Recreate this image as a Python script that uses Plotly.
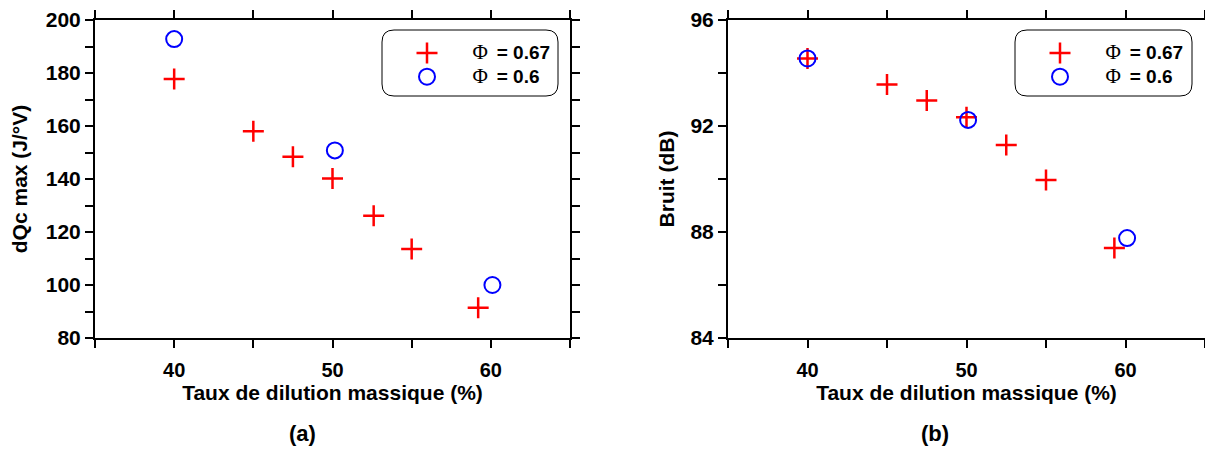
import plotly.graph_objects as go

# ---- data ----
xa_phi067 = [40, 45, 47.5, 50, 52.6, 55, 59.2]
ya_phi067 = [177.7, 158.0, 148.4, 140.2, 126.1, 113.6, 91.4]
xa_phi06 = [40, 50.15, 60.1]
ya_phi06 = [192.8, 150.8, 100.0]

xb_phi067 = [40, 45, 47.5, 50, 52.5, 55, 59.3]
yb_phi067 = [94.55, 93.57, 92.96, 92.33, 91.28, 89.96, 87.4]
xb_phi06 = [40, 50.1, 60.1]
yb_phi06 = [94.55, 92.23, 87.77]

PHI = "<span style='font-family:Liberation Serif; font-weight:normal; font-size:21px'>Φ</span>"
name067 = "\u00a0" + PHI + "\u00a0 <span style='font-size:19px'>= 0.67</span>"
name06 = "\u00a0" + PHI + "\u00a0 <span style='font-size:19px'>= 0.6</span>"
x_title = "Taux de dilution massique (%)"

# page has an 8px body margin; figure fills the rest of the 1213x455 window
OFF = 8
W, H = 1213 - 2 * OFF, 455 - 2 * OFF
def px(x):
    return (x - OFF) / W
def py(y):
    return 1 - (y - OFF) / H

FONT = "Liberation Sans, Arial, sans-serif"
RED = "#ff0000"
BLUE = "#0000ff"

fig = go.Figure()

def add_pair(xr, yr, xb, yb, xaxis, yaxis, legend):
    fig.add_trace(go.Scatter(
        x=xr, y=yr, mode="markers", name=name067, xaxis=xaxis, yaxis=yaxis, legend=legend,
        marker=dict(symbol="cross-thin", size=15, color=RED, line=dict(color=RED, width=2.5))))
    fig.add_trace(go.Scatter(
        x=xb, y=yb, mode="markers", name=name06, xaxis=xaxis, yaxis=yaxis, legend=legend,
        marker=dict(symbol="circle-open", size=16, color=BLUE, line=dict(color=BLUE, width=2))))

add_pair(xa_phi067, ya_phi067, xa_phi06, ya_phi06, "x", "y", "legend")
add_pair(xb_phi067, yb_phi067, xb_phi06, yb_phi06, "x2", "y2", "legend2")

axis_common = dict(
    showline=True, linecolor="black", linewidth=2, mirror="allticks",
    ticks="outside", ticklen=8, tickwidth=1.5, tickcolor="black",
    showgrid=False, zeroline=False, automargin=False,
)
xfont = dict(family=FONT, size=20, color="black", weight="bold")
yfont = dict(family=FONT, size=21, color="black", weight="bold")
tfont = dict(family=FONT, size=21, color="black", weight="bold")

ydom = [py(338), py(20)]
xt = [35, 40, 45, 50, 55, 60, 65]
xtt = ["", "40", "", "50", "", "60", ""]

legend_common = dict(xanchor="left", yanchor="top", bgcolor="rgba(0,0,0,0)",
                     borderwidth=0, itemwidth=72, tracegroupgap=0,
                     font=dict(family=FONT, size=16, color="black", weight="bold"))

fig.update_layout(
    width=W, height=H,
    margin=dict(l=0, r=0, t=0, b=0),
    paper_bgcolor="white", plot_bgcolor="white",
    font=dict(family=FONT, color="black"),
    xaxis=dict(domain=[px(95), px(570)], range=[35, 65], tickvals=xt, ticktext=xtt, anchor="y",
               tickfont=xfont, ticklabelstandoff=5,
               title=dict(text=x_title, font=tfont, standoff=5), **axis_common),
    yaxis=dict(domain=ydom, range=[80, 200], tickvals=list(range(80, 201, 10)),
               ticktext=[str(v) if v % 20 == 0 else "" for v in range(80, 201, 10)], anchor="x",
               tickfont=yfont, title=dict(text="dQc max (J/°V)", font=tfont, standoff=14),
               **axis_common),
    xaxis2=dict(domain=[px(728), px(1205)], range=[35, 65], tickvals=xt, ticktext=xtt, anchor="y2",
                tickfont=xfont, ticklabelstandoff=5,
                title=dict(text=x_title, font=tfont, standoff=5), **axis_common),
    yaxis2=dict(domain=ydom, range=[84, 96], tickvals=list(range(84, 97, 2)),
                ticktext=[str(v) if v % 4 == 0 else "" for v in range(84, 97, 2)], anchor="x2",
                tickfont=yfont, title=dict(text="Bruit (dB)", font=tfont, standoff=10),
                **axis_common),
    legend=dict(x=px(386), y=py(36), **legend_common),
    legend2=dict(x=px(1019), y=py(36), **legend_common),
    showlegend=True,
)

def rounded_box(x0, y0, x1, y1, r=12):
    rx, ry = r / W, r / H
    X0, X1 = px(x0), px(x1)
    Y0, Y1 = py(y0), py(y1)
    return (f"M {X0+rx} {Y0} L {X1-rx} {Y0} Q {X1} {Y0} {X1} {Y0-ry} "
            f"L {X1} {Y1+ry} Q {X1} {Y1} {X1-rx} {Y1} "
            f"L {X0+rx} {Y1} Q {X0} {Y1} {X0} {Y1+ry} "
            f"L {X0} {Y0-ry} Q {X0} {Y0} {X0+rx} {Y0} Z")

for (bx0, bx1) in [(382, 558), (1015, 1192)]:
    fig.add_shape(type="path", xref="paper", yref="paper", path=rounded_box(bx0, 30, bx1, 96),
                  line=dict(color="black", width=1), fillcolor="rgba(0,0,0,0)", layer="above")

for label, xc in [("(a)", 302), ("(b)", 935)]:
    fig.add_annotation(text=label, xref="paper", yref="paper", x=px(xc), y=py(447),
                       showarrow=False, xanchor="center", yanchor="bottom", borderpad=0,
                       font=dict(family=FONT, size=22, color="black", weight="bold"))

fig.write_html("out.html")
